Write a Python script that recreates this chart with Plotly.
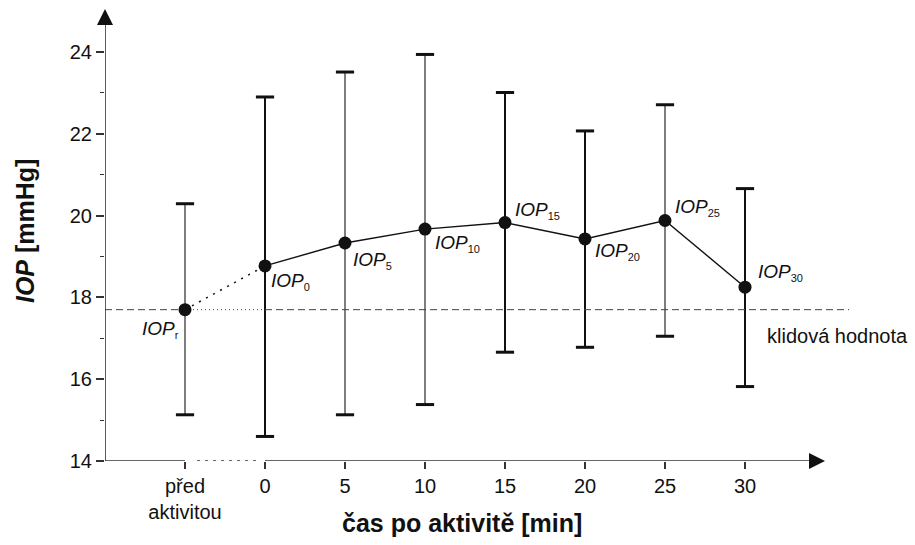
import plotly.graph_objects as go

# Intraocular pressure before and after activity (mean with range)
categories = ["před<br>aktivitou", "0", "5", "10", "15", "20", "25", "30"]
label_subs = ["r", "0", "5", "10", "15", "20", "25", "30"]
iop_mean = [17.70, 18.77, 19.33, 19.67, 19.83, 19.43, 19.88, 18.25]
iop_upper = [20.29, 22.90, 23.51, 23.94, 23.01, 22.07, 22.71, 20.66]
iop_lower = [15.13, 14.60, 15.13, 15.38, 16.66, 16.78, 17.05, 15.82]
bold_bars = [False, True, False, False, True, True, False, True]

resting_value = iop_mean[0]
pos = list(range(len(categories)))

INK = "#111111"
AXIS = "#333333"
FONT = "Liberation Sans, Arial, sans-serif"

fig = go.Figure()

# error bar stems, thin and thick groups
for bold in (False, True):
    idx = [i for i in pos if bold_bars[i] == bold]
    fig.add_trace(go.Scatter(
        x=[pos[i] for i in idx],
        y=[iop_mean[i] for i in idx],
        mode="markers",
        marker=dict(size=1, color="rgba(0,0,0,0)"),
        error_y=dict(
            type="data", symmetric=False,
            array=[iop_upper[i] - iop_mean[i] for i in idx],
            arrayminus=[iop_mean[i] - iop_lower[i] for i in idx],
            width=0,
            thickness=2.0 if bold else 1.3,
            color=INK if bold else "#3a3a3a",
        ),
        hoverinfo="skip", showlegend=False,
    ))

# error bar caps
fig.add_trace(go.Scatter(
    x=pos + pos, y=iop_upper + iop_lower, mode="markers",
    marker=dict(symbol="line-ew", size=13, line=dict(width=3, color=INK)),
    hoverinfo="skip", showlegend=False,
))

# resting value reference line: dashed, dotted across the gap, dashed again
fig.add_trace(go.Scatter(
    x=[-1, 0], y=[resting_value] * 2, mode="lines",
    line=dict(color="#444444", width=1, dash="7px,4px"),
    hoverinfo="skip", showlegend=False,
))
fig.add_trace(go.Scatter(
    x=[0.1, 1], y=[resting_value] * 2, mode="lines",
    line=dict(color="#444444", width=1, dash="1px,3px"),
    hoverinfo="skip", showlegend=False,
))
fig.add_trace(go.Scatter(
    x=[1, 8.3], y=[resting_value] * 2, mode="lines",
    line=dict(color="#444444", width=1, dash="7px,4px"),
    hoverinfo="skip", showlegend=False,
))

# connecting line: dotted from the resting value, solid after the activity
fig.add_trace(go.Scatter(
    x=pos[:2], y=iop_mean[:2], mode="lines",
    line=dict(color=INK, width=1.5, dash="2px,6px"),
    hoverinfo="skip", showlegend=False,
))
fig.add_trace(go.Scatter(
    x=pos[1:], y=iop_mean[1:], mode="lines",
    line=dict(color=INK, width=1.4),
    hoverinfo="skip", showlegend=False,
))

# mean values
fig.add_trace(go.Scatter(
    x=pos, y=iop_mean, mode="markers",
    marker=dict(size=13, color=INK),
    showlegend=False,
))

# axis lines with arrowheads; x axis is broken between the first two ticks
fig.add_trace(go.Scatter(
    x=[-1, -1], y=[14, 24.7], mode="lines",
    line=dict(color=AXIS, width=1.6), hoverinfo="skip", showlegend=False,
))
fig.add_trace(go.Scatter(
    x=[-1, 0], y=[14, 14], mode="lines",
    line=dict(color=AXIS, width=1.6), hoverinfo="skip", showlegend=False,
))
fig.add_trace(go.Scatter(
    x=[0.15, 0.9], y=[14, 14], mode="lines",
    line=dict(color=AXIS, width=1.6, dash="3px,5px"), hoverinfo="skip", showlegend=False,
))
fig.add_trace(go.Scatter(
    x=[1, 7.8], y=[14, 14], mode="lines",
    line=dict(color=AXIS, width=1.6), hoverinfo="skip", showlegend=False,
))
fig.add_trace(go.Scatter(
    x=[-1, 8], y=[25.05, 14], mode="markers",
    marker=dict(symbol=["arrow-up", "arrow-right"], size=16, color=INK),
    cliponaxis=False, hoverinfo="skip", showlegend=False,
))

# point labels IOP with subscripts
label_offsets = [(-4, -20, "right"), (4, -16, "left"), (6, -17, "left"), (8, -14, "left"),
                 (8, 12, "left"), (8, -13, "left"), (8, 13, "left"), (11, 15, "left")]
annotations = []
for i, sub in enumerate(label_subs):
    dx, dy, anchor = label_offsets[i]
    annotations.append(dict(
        x=pos[i], y=iop_mean[i], xref="x", yref="y",
        text=f"<i>IOP</i><sub><span style='font-size:11px'>{sub}</span></sub>",
        showarrow=False, xanchor=anchor, yanchor="middle",
        xshift=dx, yshift=dy,
        font=dict(family=FONT, size=19, color=INK),
    ))

annotations.append(dict(
    x=7.25, y=resting_value, xref="x", yref="y",
    text="klidová hodnota", showarrow=False,
    xanchor="left", yanchor="middle", yshift=-26,
    font=dict(family=FONT, size=20, color=INK),
))
annotations.append(dict(
    x=0.47, y=-0.137, xref="paper", yref="paper",
    text="<b>čas po aktivitě [min]</b>", showarrow=False,
    xanchor="center", yanchor="middle",
    font=dict(family=FONT, size=25, color=INK),
))
annotations.append(dict(
    x=-0.105, y=0.507, xref="paper", yref="paper",
    text="<b><i>IOP</i> [mmHg]</b>", showarrow=False, textangle=-90,
    xanchor="center", yanchor="middle",
    font=dict(family=FONT, size=25, color=INK),
))

fig.update_layout(
    width=915, height=545,
    margin=dict(l=105, r=50, t=7, b=84),
    paper_bgcolor="white", plot_bgcolor="white",
    showlegend=False,
    annotations=annotations,
    xaxis=dict(
        range=[-1, 8.5], showgrid=False, zeroline=False, showline=False,
        tickmode="array", tickvals=pos, ticktext=categories,
        ticks="outside", ticklen=7, tickwidth=1.6, tickcolor=AXIS,
        tickfont=dict(family=FONT, size=20, color=INK),
        automargin=False,
    ),
    yaxis=dict(
        range=[14, 25.1], showgrid=False, zeroline=False, showline=False,
        tickmode="array", tickvals=[14, 16, 18, 20, 22, 24],
        ticks="outside", ticklen=8, tickwidth=1.6, tickcolor=AXIS,
        minor=dict(tickvals=[15, 17, 19, 21, 23], ticks="outside", ticklen=4,
                   tickwidth=1.2, tickcolor=AXIS),
        tickfont=dict(family=FONT, size=20, color=INK),
        automargin=False,
    ),
)

fig.write_html("out.html")
